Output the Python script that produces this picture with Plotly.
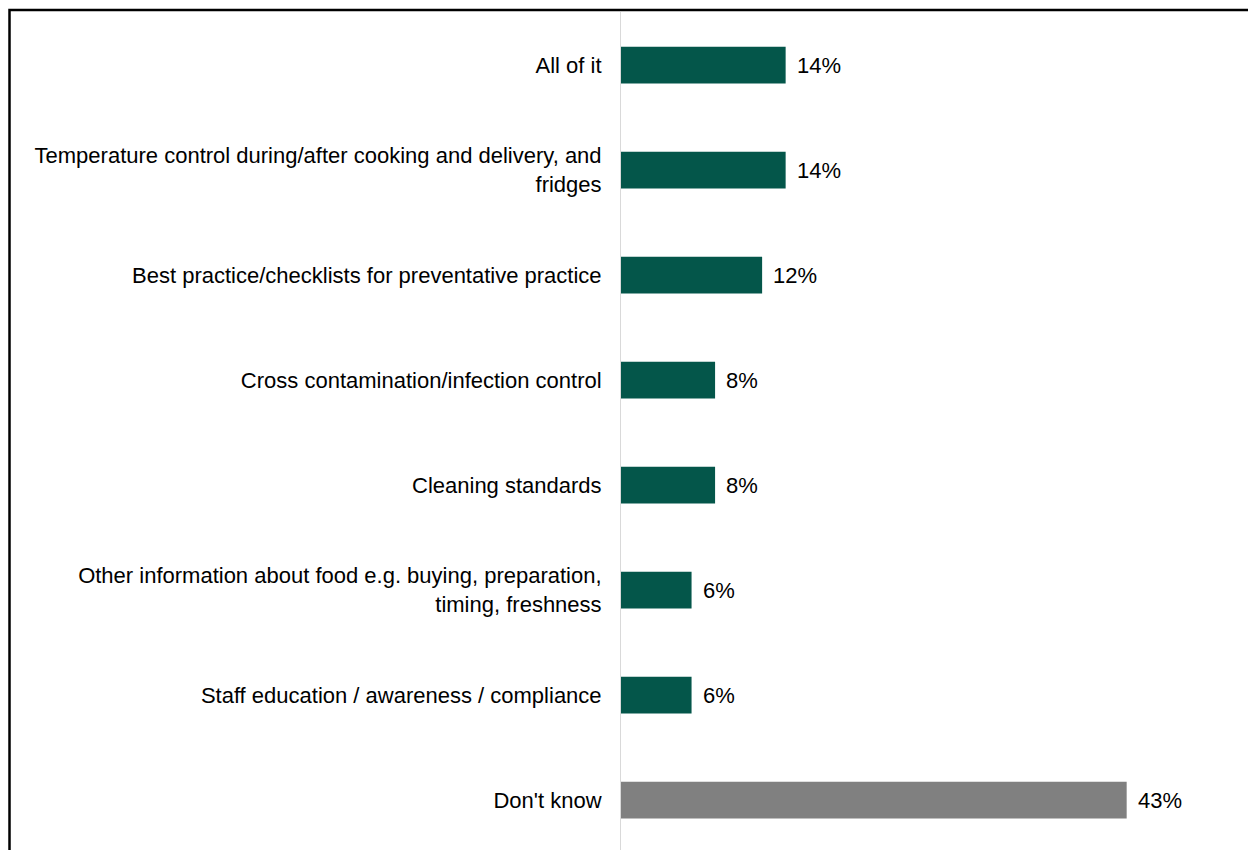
import plotly.graph_objects as go

categories = [
    "All of it",
    "Temperature control during/after cooking and delivery, and<br>fridges",
    "Best practice/checklists for preventative practice",
    "Cross contamination/infection control",
    "Cleaning standards",
    "Other information about food e.g. buying, preparation,<br>timing, freshness",
    "Staff education / awareness / compliance",
    "Don't know",
]
values = [14, 14, 12, 8, 8, 6, 6, 43]
labels = ["14%", "14%", "12%", "8%", "8%", "6%", "6%", "43%"]
bar_colors = ["#04564A"] * 7 + ["#808080"]

W, H = 1248, 850
L, T = 621, 12
plot_w = W - L
plot_h = H - T
px_per_unit = 11.76
band = 105.0

fig = go.Figure()
fig.add_trace(go.Bar(
    x=values,
    y=list(range(len(categories))),
    orientation="h",
    width=0.35,
    marker=dict(color=bar_colors, line=dict(width=0)),
    hoverinfo="skip",
))

for i, (v, t) in enumerate(zip(values, labels)):
    fig.add_annotation(
        x=v, y=i, text=t, showarrow=False, xanchor="left", yanchor="middle",
        xshift=9, font=dict(family="Liberation Sans, Arial, sans-serif", size=22, color="#000000"),
    )

top_val = -(65 - T) / band
bottom_val = top_val + plot_h / band

fig.update_layout(
    width=W, height=H,
    margin=dict(l=L, r=0, t=T, b=0, autoexpand=False),
    paper_bgcolor="white", plot_bgcolor="white",
    showlegend=False,
    font=dict(family="Liberation Sans, Arial, sans-serif", size=22, color="#000000"),
    xaxis=dict(range=[0, plot_w / px_per_unit], showgrid=False, zeroline=False,
               showticklabels=False, ticks="", showline=False, fixedrange=True),
    yaxis=dict(range=[bottom_val, top_val], tickmode="array",
               tickvals=list(range(len(categories))), ticktext=categories,
               showgrid=False, zeroline=False, ticks="", showline=True,
               linecolor="#D9D9D9", linewidth=1, ticklabelstandoff=14,
               tickfont=dict(size=22, color="#000000"), automargin=False, fixedrange=True),
    shapes=[dict(
        type="rect", xref="paper", yref="paper",
        x0=(9.5 - L) / plot_w, x1=1.05,
        y0=-0.05, y1=1 + (T - 10) / plot_h,
        line=dict(color="#000000", width=2.5), fillcolor="rgba(0,0,0,0)", layer="above",
    )],
)

fig.write_html("out.html")
